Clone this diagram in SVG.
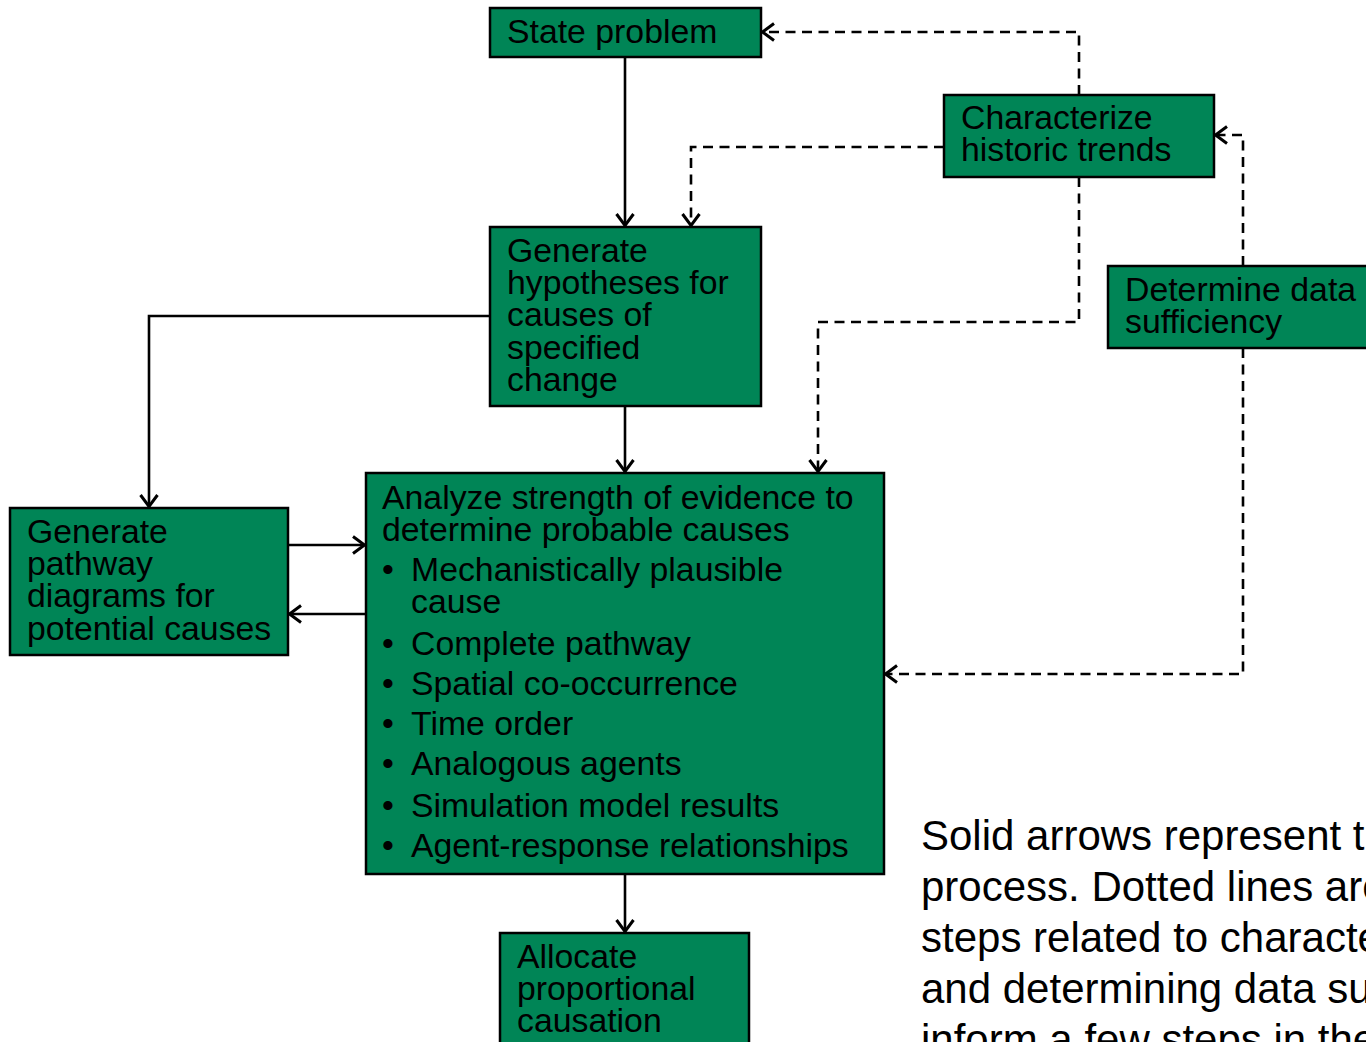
<svg xmlns="http://www.w3.org/2000/svg" width="1366" height="1042" viewBox="0 0 1366 1042">
<defs>
<marker id="arr" markerUnits="userSpaceOnUse" markerWidth="22" markerHeight="22" viewBox="0 0 22 22" refX="19" refY="11" orient="auto">
<path d="M7,2.5 L18.5,11 L7,19.5" fill="none" stroke="#000" stroke-width="3"/>
</marker>
<style>
.box{fill:#008556;stroke:#000;stroke-width:2.5}
.t{font-family:"Liberation Sans",Arial,sans-serif;font-size:33.8px;fill:#000}
.p{font-family:"Liberation Sans",Arial,sans-serif;font-size:42px;fill:#000}
.c{fill:none;stroke:#000;stroke-width:2.6;marker-end:url(#arr)}
.d{stroke-dasharray:10 6.5}
</style>
</defs>
<rect width="1366" height="1042" fill="#fff"/>
<g id="connectors">
<path class="c" d="M625,57 V226"/>
<path class="c" d="M625,406 V472"/>
<path class="c" d="M490,316 H149 V507"/>
<path class="c" d="M288,545 H365"/>
<path class="c" d="M366,614 H289"/>
<path class="c" d="M625,874 V932"/>
<path class="c d" d="M1079,95 V32 H762"/>
<path class="c d" d="M944,147 H691 V226"/>
<path class="c d" d="M1079,177 V322 H818 V472"/>
<path class="c d" d="M1243,266 V135 H1215"/>
<path class="c d" d="M1243,348 V674 H885"/>
</g>
<g id="state-problem">
<rect class="box" x="490" y="8" width="271" height="49"/>
<text class="t" x="507" y="43">State problem</text>
</g>
<g id="characterize">
<rect class="box" x="944" y="95" width="270" height="82"/>
<text class="t" x="961" y="129">Characterize</text>
<text class="t" x="961" y="161">historic trends</text>
</g>
<g id="determine">
<rect class="box" x="1108" y="266" width="280" height="82"/>
<text class="t" x="1125" y="301">Determine data</text>
<text class="t" x="1125" y="333">sufficiency</text>
</g>
<g id="hypotheses">
<rect class="box" x="490" y="227" width="271" height="179"/>
<text class="t" x="507" y="262">Generate</text>
<text class="t" x="507" y="294">hypotheses for</text>
<text class="t" x="507" y="326">causes of</text>
<text class="t" x="507" y="359">specified</text>
<text class="t" x="507" y="391">change</text>
</g>
<g id="analyze">
<rect class="box" x="366" y="473" width="518" height="401"/>
<text class="t" x="382" y="509">Analyze strength of evidence to</text>
<text class="t" x="382" y="541">determine probable causes</text>
<text class="t" x="382" y="581">•</text><text class="t" x="411" y="581">Mechanistically plausible</text>
<text class="t" x="411" y="613">cause</text>
<text class="t" x="382" y="655">•</text><text class="t" x="411" y="655">Complete pathway</text>
<text class="t" x="382" y="695">•</text><text class="t" x="411" y="695">Spatial co-occurrence</text>
<text class="t" x="382" y="735">•</text><text class="t" x="411" y="735">Time order</text>
<text class="t" x="382" y="775">•</text><text class="t" x="411" y="775">Analogous agents</text>
<text class="t" x="382" y="817">•</text><text class="t" x="411" y="817">Simulation model results</text>
<text class="t" x="382" y="857">•</text><text class="t" x="411" y="857">Agent-response relationships</text>
</g>
<g id="pathway">
<rect class="box" x="10" y="508" width="278" height="147"/>
<text class="t" x="27" y="543">Generate</text>
<text class="t" x="27" y="575">pathway</text>
<text class="t" x="27" y="607">diagrams for</text>
<text class="t" x="27" y="640">potential causes</text>
</g>
<g id="allocate">
<rect class="box" x="500" y="933" width="249" height="130"/>
<text class="t" x="517" y="968">Allocate</text>
<text class="t" x="517" y="1000">proportional</text>
<text class="t" x="517" y="1032">causation</text>
</g>
<g id="note">
<text class="p" x="921" y="850">Solid arrows represent the</text>
<text class="p" x="921" y="901">process. Dotted lines are</text>
<text class="p" x="921" y="952">steps related to characterizing</text>
<text class="p" x="921" y="1003">and determining data sufficiency</text>
<text class="p" x="921" y="1054">inform a few steps in the</text>
</g>
</svg>
